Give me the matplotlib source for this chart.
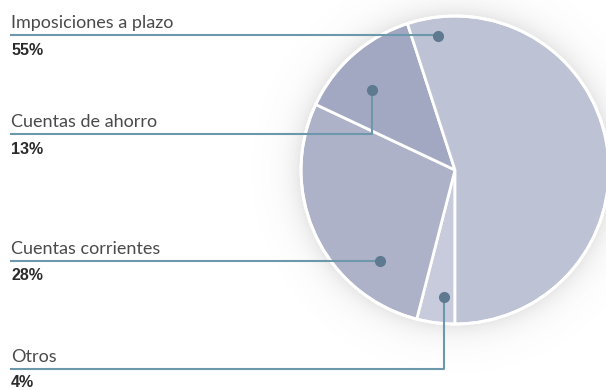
import numpy as np
import matplotlib
matplotlib.use("Agg")
import matplotlib.pyplot as plt

# Deposit mix by product type
categories = ["Otros", "Cuentas corrientes", "Cuentas de ahorro", "Imposiciones a plazo"]
shares = [4, 28, 13, 55]
pct_labels = ["4%", "28%", "13%", "55%"]

colors = ["#c8cbdb", "#aeb2c9", "#a2a8c2", "#bec2d5"]
line_color = "#6b98ab"
dot_color = "#5e7a90"

W, H = 606, 390
fig = plt.figure(figsize=(W / 100, H / 100), dpi=100)
ax = fig.add_axes([0, 0, 1, 1])


def py(y):
    """Convert a top-down pixel row into axis y."""
    return H - y


cx, cy, R = 455, py(170), 154

# soft shadow around the disc
yy, xx = np.mgrid[0:H, 0:W]
d = np.hypot(xx + 0.5 - cx, (H - yy - 0.5) - cy)
alpha = np.where(d > R - 2, 0.17 * np.exp(-np.clip(d - R, 0, None) / 13.0), 0.0)
shadow = np.zeros((H, W, 4))
shadow[..., :3] = 0.4
shadow[..., 3] = alpha
ax.imshow(shadow, extent=(0, W, 0, H), origin="upper", zorder=0, interpolation="bilinear")

wedges, _ = ax.pie(
    shares,
    colors=colors,
    startangle=-90,
    counterclock=False,
    center=(cx, cy),
    radius=R,
    wedgeprops=dict(edgecolor="white", linewidth=2),
    frame=True,
)
ax.set_xlim(0, W)
ax.set_ylim(0, H)
ax.set_aspect("equal")
ax.axis("off")
for w in wedges:
    w.set_zorder(2)
ax.add_patch(plt.Circle((cx, cy), R, fill=False, edgecolor="white", linewidth=2.2, zorder=3))

# callouts: (label row, anchor dot) in pixel rows/columns
callouts = {
    "Imposiciones a plazo": (35, (437.5, 35.5)),
    "Cuentas de ahorro": (134, (371.5, 89.5)),
    "Cuentas corrientes": (260.5, (380, 260.5)),
    "Otros": (369, (444, 297)),
}
pct_offset = {"Otros": 18}

label_font = dict(family=["Lato", "DejaVu Sans"], weight="normal", size=13.0, color="#4a4a4a")
pct_font = dict(family=["Liberation Sans", "DejaVu Sans"], weight="bold", size=11.5, color="#2a2a2a")

for cat, pct in zip(categories, pct_labels):
    ly, (dx, dy) = callouts[cat]
    xs = [10, dx, dx]
    ys = [py(ly), py(ly), py(dy)]
    ax.plot(xs, ys, color=line_color, linewidth=1.5, zorder=4, solid_capstyle="butt")
    ax.plot([dx], [py(dy)], "o", color=dot_color, markersize=7, zorder=5)
    ax.text(11, py(ly - 7), cat, ha="left", va="baseline", **label_font)
    ax.text(11, py(ly + pct_offset.get(cat, 20)), pct, ha="left", va="baseline", **pct_font)

fig.savefig("out.png", dpi=100, facecolor="white")
